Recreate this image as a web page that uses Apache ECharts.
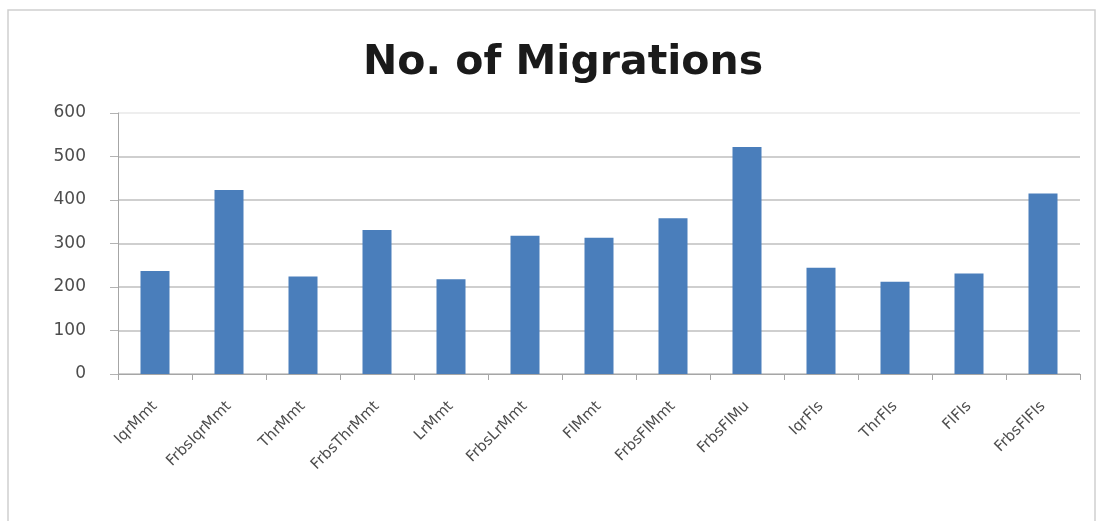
<!DOCTYPE html>
<html><head><meta charset="utf-8">
<script src="https://cdn.jsdelivr.net/npm/echarts@6/dist/echarts.min.js"></script>
<style>html,body{margin:0;padding:0;background:#fff}#c{width:1104px;height:521px}</style>
</head><body><div id="c"></div>
<script>
const categories = ["IqrMmt","FrbsIqrMmt","ThrMmt","FrbsThrMmt","LrMmt","FrbsLrMmt","FlMmt","FrbsFlMmt","FrbsFlMu","IqrFls","ThrFls","FlFls","FrbsFlFls"];
const migrations = [237, 423, 224, 331, 218, 318, 313, 358, 522, 244, 212, 231, 415];
const yTicks = {min: 0, max: 600, interval: 100};
const chart = echarts.init(document.getElementById('c'));
chart.setOption({
  animation: false,
  backgroundColor: '#fff',
  title: {text: 'No. of Migrations', left: 558, textAlign: 'center', top: 38,
    textStyle: {fontFamily: 'DejaVu Sans', fontWeight: 'bold', fontSize: 41, color: '#1a1a1a'}},
  graphic: [{type: 'rect', shape: {x: 8, y: 10, width: 1087, height: 530},
    style: {fill: 'none', stroke: '#cfcfcf', lineWidth: 1.5}, silent: true}],
  grid: {left: 118, right: 24, top: 113, bottom: 147},
  xAxis: {type: 'category', data: categories,
    axisLine: {lineStyle: {color: '#a6a6a6'}},
    axisTick: {show: true, alignWithLabel: false, length: 6, lineStyle: {color: '#a6a6a6'}},
    axisLabel: {rotate: 45, interval: 0, color: '#4d4d4d', fontSize: 15, fontFamily: 'DejaVu Sans', margin: 30}},
  yAxis: {type: 'value', min: yTicks.min, max: yTicks.max, interval: yTicks.interval,
    axisLine: {show: true, lineStyle: {color: '#a6a6a6'}},
    axisTick: {show: true, length: 8, lineStyle: {color: '#b3b3b3'}},
    axisLabel: {color: '#4d4d4d', fontSize: 17, fontFamily: 'DejaVu Sans', margin: 32},
    splitLine: {lineStyle: {color: ['#bfbfbf','#bfbfbf','#bfbfbf','#bfbfbf','#bfbfbf','#bfbfbf','#e8e8e8'], width: 1.5}}},
  series: [{type: 'bar', data: migrations, barWidth: 29,
    itemStyle: {color: '#4a7ebb'}}]
});
</script></body></html>
